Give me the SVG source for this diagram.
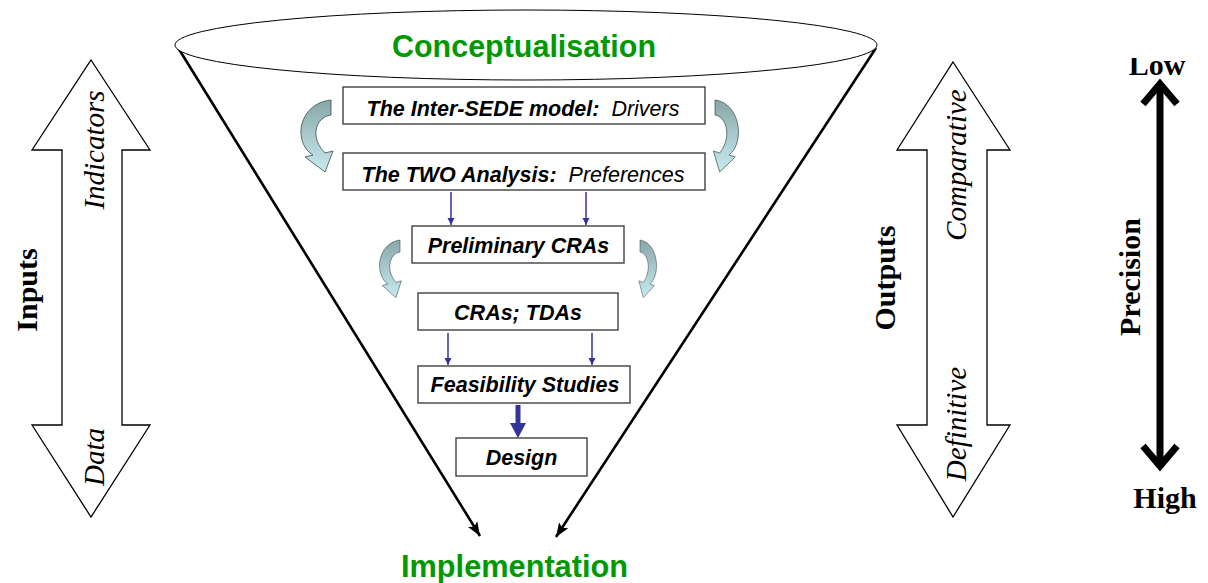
<svg xmlns="http://www.w3.org/2000/svg" width="1208" height="583" viewBox="0 0 1208 583">
  <style>
    .box { fill: #ffffff; stroke: #404040; stroke-width: 1.4; }
    .boxtext { font-family: "Liberation Sans", Arial, sans-serif; font-size: 21.5px; fill: #000; text-anchor: middle; font-style: italic; white-space: pre; }
    .b { font-weight: bold; }
    .green { font-family: "Liberation Sans", Arial, sans-serif; font-size: 30.5px; font-weight: bold; fill: #009900; text-anchor: middle; }
    .serif-b { font-family: "Liberation Serif", "Times New Roman", serif; font-size: 30px; font-weight: bold; fill: #000; text-anchor: middle; }
    .serif-i { font-family: "Liberation Serif", "Times New Roman", serif; font-size: 29px; font-style: italic; fill: #000; text-anchor: middle; }
    .big { fill: #ffffff; stroke: #000; stroke-width: 1.3; stroke-linejoin: miter; }
    .flow { stroke: #333399; stroke-width: 1.5; fill: none; }
    .curl { fill: url(#curlFill); stroke: #3a4a4a; stroke-width: 0.8; }
  </style>
  <defs>
    <linearGradient id="curlFill" x1="0" y1="0" x2="0" y2="1">
      <stop offset="0" stop-color="#86a6a8"/>
      <stop offset="0.45" stop-color="#a7c6c9"/>
      <stop offset="1" stop-color="#c6eaf0"/>
    </linearGradient>
    <marker id="blueHead" markerWidth="8" markerHeight="8" refX="7" refY="4" orient="auto" markerUnits="userSpaceOnUse">
      <path d="M0,0.5 L7,4 L0,7.5 Z" fill="#333399"/>
    </marker>
    <marker id="blackHead" markerWidth="16" markerHeight="12" refX="14" refY="6" orient="auto" markerUnits="userSpaceOnUse">
      <path d="M0,0.5 L14,6 L0,11.5 L3,6 Z" fill="#000"/>
    </marker>
    <path id="curl" d="M0,0 C-20,2 -31,18 -30,34 C-29,46 -23,52 -18,55 L-26,57 L-6,72 L2,51 L-6,53 C-12,47 -16,39 -15,31 C-14,22 -8,16 0,15 Z"/>
    <clipPath id="lowClip"><rect x="1100" y="58" width="108" height="30"/></clipPath>
  </defs>

  <!-- funnel outline with converging arrows -->
  <g id="funnel">
    <line x1="177" y1="46" x2="480" y2="536" stroke="#000" stroke-width="2.6" marker-end="url(#blackHead)"/>
    <line x1="876" y1="48" x2="556" y2="537" stroke="#000" stroke-width="2.6" marker-end="url(#blackHead)"/>
    <ellipse cx="526" cy="45" rx="351" ry="35" fill="#ffffff" stroke="#000" stroke-width="1"/>
  </g>

  <g id="conceptualisation">
    <text class="green" x="524" y="56.5" textLength="264" lengthAdjust="spacingAndGlyphs">Conceptualisation</text>
  </g>
  <g id="implementation">
    <text class="green" x="514.5" y="577" textLength="227" lengthAdjust="spacingAndGlyphs">Implementation</text>
  </g>

  <!-- process boxes -->
  <g id="inter-sede">
    <rect class="box" x="343" y="87" width="362" height="37"/>
    <text class="boxtext" x="523" y="116" xml:space="preserve"><tspan class="b">The Inter-SEDE model:</tspan>  Drivers</text>
  </g>
  <g id="two-analysis">
    <rect class="box" x="343" y="153" width="362" height="37"/>
    <text class="boxtext" x="523" y="182" xml:space="preserve"><tspan class="b">The TWO Analysis:</tspan>  Preferences</text>
  </g>
  <g id="preliminary-cras">
    <rect class="box" x="412" y="226" width="212" height="37"/>
    <text class="boxtext b" x="518.5" y="253">Preliminary CRAs</text>
  </g>
  <g id="cras-tdas">
    <rect class="box" x="418" y="293" width="200" height="37"/>
    <text class="boxtext b" x="518" y="320">CRAs; TDAs</text>
  </g>
  <g id="feasibility">
    <rect class="box" x="418" y="366" width="212" height="37"/>
    <text class="boxtext b" x="525" y="392">Feasibility Studies</text>
  </g>
  <g id="design">
    <rect class="box" x="456" y="438" width="131" height="38"/>
    <text class="boxtext b" x="521.5" y="465">Design</text>
  </g>

  <!-- connectors between boxes -->
  <g id="connectors">
    <line class="flow" x1="451" y1="192" x2="451" y2="225" marker-end="url(#blueHead)"/>
    <line class="flow" x1="586" y1="192" x2="586" y2="225" marker-end="url(#blueHead)"/>
    <line class="flow" x1="448" y1="333" x2="448" y2="365" marker-end="url(#blueHead)"/>
    <line class="flow" x1="592" y1="333" x2="592" y2="365" marker-end="url(#blueHead)"/>
    <line x1="518" y1="405" x2="518" y2="424" stroke="#333399" stroke-width="5"/>
    <path d="M510,423 L526,423 L518,438 Z" fill="#333399"/>
    <use href="#curl" class="curl" transform="translate(331,100)"/>
    <use href="#curl" class="curl" transform="translate(715,100) scale(-0.78,1)"/>
    <use href="#curl" class="curl" transform="translate(400,240) scale(0.68,0.8)"/>
    <use href="#curl" class="curl" transform="translate(640,240) scale(-0.55,0.8)"/>
  </g>

  <!-- inputs scale -->
  <g id="inputs">
    <polygon class="big" points="91,60 150,150 122,150 122,425 150,425 91,517 32,425 62,425 62,150 32,150"/>
    <text class="serif-b" transform="translate(37,290) rotate(-90)">Inputs</text>
    <text class="serif-i" transform="translate(104,150) rotate(-90)">Indicators</text>
    <text class="serif-i" transform="translate(104,457) rotate(-90)">Data</text>
  </g>

  <!-- outputs scale -->
  <g id="outputs">
    <polygon class="big" points="953,62 1010,150 987,150 987,425 1010,425 953,517 897,425 927,425 927,150 897,150"/>
    <text class="serif-b" transform="translate(895,278) rotate(-90)">Outputs</text>
    <text class="serif-i" transform="translate(966,165) rotate(-90)">Comparative</text>
    <text class="serif-i" transform="translate(966,424) rotate(-90)">Definitive</text>
  </g>

  <!-- precision scale -->
  <g id="precision">
    <line x1="1160" y1="86" x2="1160" y2="462" stroke="#000" stroke-width="7"/>
    <polyline points="1143,104 1160,84 1177,104" fill="none" stroke="#000" stroke-width="7"/>
    <polyline points="1143,446 1160,466 1177,446" fill="none" stroke="#000" stroke-width="7"/>
    <text class="serif-b" x="1157" y="75" clip-path="url(#lowClip)">Low</text>
    <text class="serif-b" x="1165" y="508">High</text>
    <text class="serif-b" transform="translate(1140,277) rotate(-90)">Precision</text>
  </g>
</svg>
